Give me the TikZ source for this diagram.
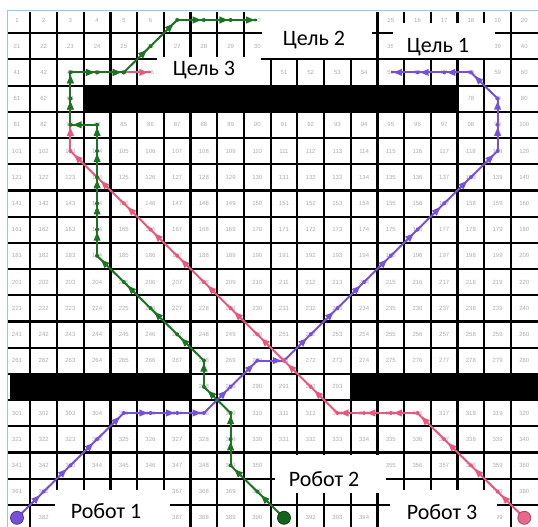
\documentclass[tikz,border=0pt]{standalone}
\usepackage{fontspec}
\setmainfont{Carlito}
\newfontfamily\numfont{Liberation Sans}
\usetikzlibrary{arrows.meta,decorations.markings}

\definecolor{gridnum}{HTML}{ACACAC}
\definecolor{frameblue}{HTML}{9DC3E6}
\definecolor{robotA}{HTML}{7650D8}
\definecolor{robotB}{HTML}{1A7420}
\definecolor{robotC}{HTML}{E8587E}

\begin{document}
\begin{tikzpicture}[x=1pt, y=-1pt,
cellnum/.style={font=\numfont\fontsize{6}{7}\selectfont, text=gridnum, inner sep=0pt},
gridline/.style={line width=2.2pt, black},
wall/.style={fill=black},
tagbox/.style={fill=white},
tag/.style={inner sep=0pt, font=\fontsize{22}{24}\selectfont},
route/.style={line width=2pt, postaction={decorate},
  decoration={markings,
    mark=at position 0 with {\fill circle (2pt);},
    mark=at position 0.75 with {\fill (-4.5pt,-3.6pt) -- (4pt,0pt) -- (-4.5pt,3.6pt) -- cycle;}}},
robot/.style={circle, line width=0.8pt, minimum size=13pt, inner sep=0pt}
]
\useasboundingbox (0,0) rectangle (538,527);

\foreach \n in {1,...,400}{
  \pgfmathtruncatemacro\col{mod(\n-1,20)}
  \pgfmathtruncatemacro\row{div(\n-1,20)}
  \pgfmathtruncatemacro\hide{(\n>=11 && \n<=14) || (\n>=31 && \n<=34) || (\n>=36 && \n<=38)
    || (\n>=47 && \n<=50) || (\n>=64 && \n<=77) || (\n>=281 && \n<=287) || (\n>=294 && \n<=300)
    || (\n>=351 && \n<=354) || (\n>=363 && \n<=366) || (\n>=371 && \n<=378)
    || (\n>=383 && \n<=386) || (\n>=395 && \n<=398)}
  \coordinate (c\n) at ({17+\col*26.7},{20+\row*26.2});
  \ifnum\hide=0 \node[cellnum] (n\n) at (c\n) {\n}; \fi
}
\foreach \k in {0,...,18}{
  \draw[gridline] ({30.35+\k*26.7},12) -- ({30.35+\k*26.7},527);
  \draw[gridline] (8,{33.2+\k*26.2}) -- (538,{33.2+\k*26.2});
}
\draw[frameblue, line width=1pt] (7,527) -- (7,11) -- (538,11);

\fill[tagbox] (157,57) rectangle (261,85);
\fill[tagbox] (262,12) rectangle (372,58);
\fill[tagbox] (393,23) rectangle (495,58);
\fill[tagbox] (55,490) rectangle (170,527);
\fill[tagbox] (275,455) rectangle (386,493);
\fill[tagbox] (390,490) rectangle (497,527);

\fill[wall] (83.75,85.6) rectangle (457.55,111.8);
\fill[wall] (10,373.8) rectangle (190.55,400);
\fill[wall] (350.75,373.8) rectangle (538,400);

\node[tag] (goalC) at (204,70) {Цель 3};
\node[tag] (goalB) at (314,40) {Цель 2};
\node[tag] (goalA) at (438,47) {Цель 1};
\node[tag] (labelA) at (106,511) {Робот 1};
\node[tag] (labelB) at (324,479) {Робот 2};
\node[tag] (labelC) at (442,512) {Робот 3};

\foreach \c [remember=\c as \p (initially 381)] in {362,343,324,305,306,307,308,289,270,271,252,233,214,195,176,157,138,119,99,79,58,57,56,55}
  \draw[route, robotA] (c\p) -- (c\c);
\foreach \c [remember=\c as \p (initially 400)] in {379,358,337,316,315,314,313,292,271,250,229,208,187,166,145,124,103,83,63,43,44,45,46}
  \draw[route, robotC] (c\p) -- (c\c);
\foreach \c [remember=\c as \p (initially 391)] in {370,349,329,309,288,268,247,226,205,184,164,144,124,104,84,83,63,43,44,45,26,7,8,9,10}
  \draw[route, robotB] (c\p) -- (c\c);

\node[robot, fill=robotA, draw=robotA!70!black] (robA) at (c381) {};
\node[robot, fill=robotB!85!black, draw=robotB!60!black] (robB) at (c391) {};
\node[robot, fill=robotC!90!white, draw=robotC!75!black] (robC) at (c400) {};
\end{tikzpicture}
\end{document}
